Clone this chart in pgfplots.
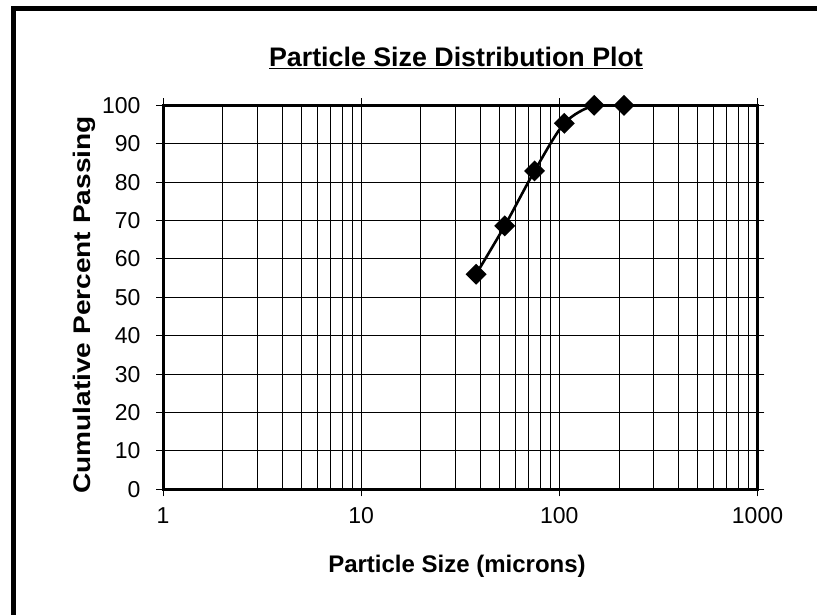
\documentclass[border=0pt]{standalone}
\usepackage{fontspec}
\setmainfont{Liberation Sans}
\usepackage{pgfplots}
\pgfplotsset{compat=1.18}
\begin{document}
\begin{tikzpicture}
\useasboundingbox (0,0) rectangle (817pt,615pt);
% outer chart frame (cropped at right and bottom)
\draw[line width=5pt] (13.5pt,0pt) -- (13.5pt,606.5pt) -- (817pt,606.5pt);
\begin{axis}[
  at={(163pt,125.7pt)}, anchor=south west,
  width=594.5pt, height=384pt, scale only axis,
  xmode=log, xmin=1, xmax=1000, ymin=0, ymax=100,
  xtick={1,10,100,1000}, xticklabels={1,10,100,1000},
  ytick={0,10,...,100},
  grid=both, xminorgrids=true,
  major grid style={black, line width=0.9pt},
  minor grid style={black, line width=0.9pt},
  minor tick length=0pt, major tick length=14pt, tick align=center,
  tick style={black, line width=0.9pt},
  axis line style={line width=3pt},
  /pgf/number format/assume math mode=true,
  ticklabel style={font=\fontsize{23}{23}\selectfont},
  yticklabel style={xshift=-12pt},
  xticklabel style={yshift=-7.5pt},
  clip=true,
]
\addplot[black, line width=2.6pt, smooth, tension=0.5,
  mark=square*, mark size=6.1pt, mark options={rotate=45, solid, fill=black}]
  coordinates {(38,56) (53,68.6) (75,82.9) (106,95.3) (150,100) (212,100)};
\end{axis}
\node[anchor=base, font=\fontsize{26.8}{26.8}\selectfont\bfseries] at (456pt,548.3pt) {\underline{Particle Size Distribution Plot}};
\node[anchor=base, font=\fontsize{24}{24}\selectfont\bfseries] at (457pt,42pt) {Particle Size (microns)};
\node[anchor=base, rotate=90, font=\fontsize{24}{24}\selectfont\bfseries] at (90pt,310pt) {\scalebox{1.17}[1]{Cumulative Percent Passing}};
\end{tikzpicture}
\end{document}
